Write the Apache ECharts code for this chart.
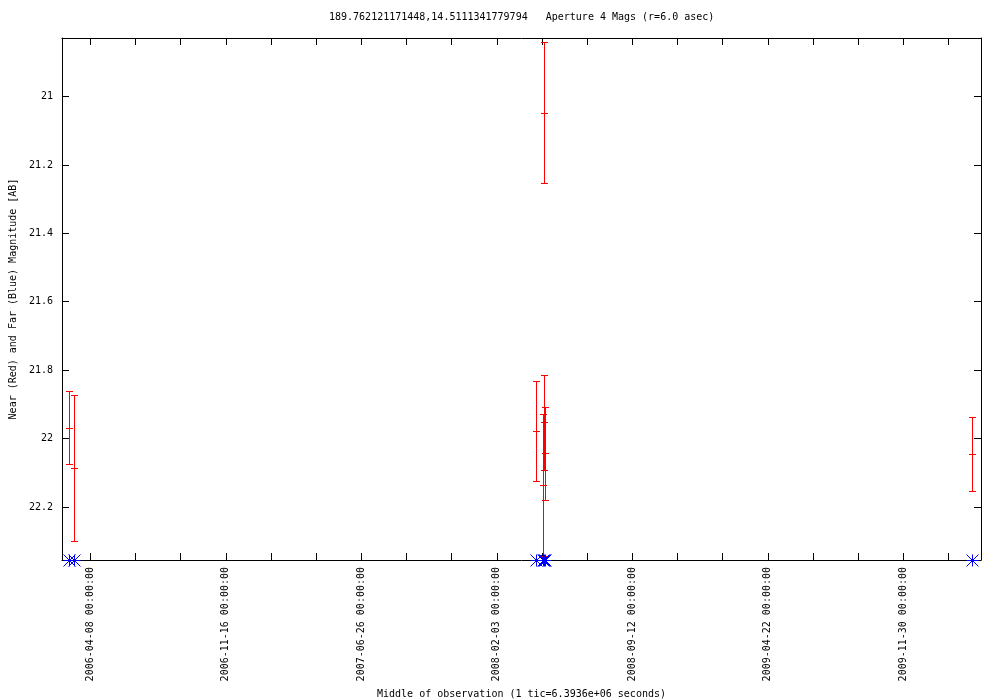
<!DOCTYPE html>
<html><head><meta charset="utf-8">
<script src="https://cdn.jsdelivr.net/npm/echarts@6/dist/echarts.min.js"></script>
<style>html,body{margin:0;padding:0;background:#fff}#c{width:1000px;height:700px}</style>
</head><body><div id="c"></div>
<script>
const titleText = '189.762121171448,14.5111341779794   Aperture 4 Mags (r=6.0 asec)';
const xAxisName = 'Middle of observation (1 tic=6.3936e+06 seconds)';
const yAxisName = 'Near (Red) and Far (Blue) Magnitude [AB]';
const xTickLabels = ['2006-04-08 00:00:00', '2006-11-16 00:00:00', '2007-06-26 00:00:00',
  '2008-02-03 00:00:00', '2008-09-12 00:00:00', '2009-04-22 00:00:00', '2009-11-30 00:00:00'];
const ticDays = 74;            // 1 tic = 6.3936e+06 s
const yTickValues = [21, 21.2, 21.4, 21.6, 21.8, 22, 22.2];

// Near-UV (red) magnitudes with errors
const nearDates = ['2006-03-04', '2006-03-12', '2008-04-07', '2008-04-18', '2008-04-20', '2008-04-22', '2008-04-20', '2010-03-23'];
const nearMag   = [21.968, 22.085, 21.977, 22.135, 21.953, 22.043, 21.047, 22.046];
const nearErr   = [0.107, 0.213, 0.146, 0.208, 0.139, 0.136, 0.206, 0.108];
// Far-UV (blue) points, all at the bottom edge
const farDates  = ['2006-03-04', '2006-03-12', '2008-04-07', '2008-04-18', '2008-04-20', '2008-04-22', '2010-03-23'];
const farMag    = [22.355, 22.355, 22.355, 22.355, 22.355, 22.355, 22.355];

const DAY = 86400000;
const toDay = s => Date.parse(s.length > 10 ? s.replace(' ', 'T') + 'Z' : s + 'T00:00:00Z') / DAY;
const labelDays = xTickLabels.map(toDay);
const d0 = labelDays[0];
const tickDays = [];
for (let k = 0; k <= 19; k++) tickDays.push(d0 + k * ticDays);
const labelMap = {};
labelDays.forEach((d, i) => { labelMap[d] = xTickLabels[i]; });

const xMin = d0 - 46.5, xMax = d0 + 1459.3;
const yMin = 20.829, yMax = 22.355;

const nearData = nearDates.map((d, i) => [toDay(d), nearMag[i], nearErr[i]]);
const farData = farDates.map((d, i) => [toDay(d), farMag[i]]);

const FONT = 'DejaVu Sans Mono';
const FS = 10;
const r = v => Math.round(v) + 0.5;

function renderErr(params, api) {
  const x = api.value(0), m = api.value(1), e = api.value(2);
  const c = api.coord([x, m]), t = api.coord([x, m - e]), b = api.coord([x, m + e]);
  const px = r(c[0]), w = 3.5;
  const st = {stroke: '#ff0000', lineWidth: 1, fill: null};
  const yt = r(t[1]), yb = r(b[1]), yc = r(c[1]);
  return {type: 'group', children: [
    {type: 'line', shape: {x1: px, y1: yt, x2: px, y2: yb}, style: st},
    {type: 'line', shape: {x1: px - w, y1: yt, x2: px + w, y2: yt}, style: st},
    {type: 'line', shape: {x1: px - w, y1: yb, x2: px + w, y2: yb}, style: st},
    {type: 'line', shape: {x1: px - w, y1: yc, x2: px + w, y2: yc}, style: st}
  ]};
}
function renderStar(params, api) {
  const c = api.coord([api.value(0), api.value(1)]);
  const px = r(c[0]), py = r(c[1]), h = 6;
  const st = {stroke: '#0000ff', lineWidth: 1, fill: null};
  return {type: 'group', children: [
    {type: 'line', shape: {x1: px - h, y1: py, x2: px + h, y2: py}, style: st},
    {type: 'line', shape: {x1: px, y1: py - h, x2: px, y2: py + h}, style: st},
    {type: 'line', shape: {x1: px - h, y1: py - h, x2: px + h, y2: py + h}, style: st},
    {type: 'line', shape: {x1: px - h, y1: py + h, x2: px + h, y2: py - h}, style: st}
  ]};
}

const axisLineStyle = {show: true, lineStyle: {color: '#000', width: 1}};
const tickStyle = {show: true, inside: true, length: 7, lineStyle: {color: '#000', width: 1}};

const chart = echarts.init(document.getElementById('c'), null, {renderer: 'canvas'});
chart.setOption({
  animation: false,
  backgroundColor: '#fff',
  textStyle: {fontFamily: FONT},
  title: {
    text: titleText, left: 329, top: 12, padding: 0,
    textStyle: {fontFamily: FONT, fontSize: FS, fontWeight: 'normal', color: '#000'}
  },
  grid: {left: 62, top: 38, width: 919, height: 522, show: false, containLabel: false, outerBoundsMode: 'none'},
  xAxis: [{
    type: 'value', position: 'bottom', min: xMin, max: xMax,
    axisLine: axisLineStyle, splitLine: {show: false},
    axisTick: Object.assign({customValues: tickDays}, tickStyle),
    axisLabel: {
      customValues: labelDays, rotate: 90, margin: 7,
      fontFamily: FONT, fontSize: FS, color: '#000',
      formatter: v => labelMap[v] || ''
    },
    name: xAxisName, nameLocation: 'middle', nameGap: 127,
    nameTextStyle: {fontFamily: FONT, fontSize: FS, color: '#000'}
  }, {
    type: 'value', position: 'top', min: xMin, max: xMax,
    axisLine: axisLineStyle, splitLine: {show: false},
    axisTick: Object.assign({customValues: tickDays}, tickStyle),
    axisLabel: {show: false}
  }],
  yAxis: [{
    type: 'value', position: 'left', inverse: true, min: yMin, max: yMax,
    axisLine: axisLineStyle, splitLine: {show: false},
    axisTick: Object.assign({customValues: yTickValues}, tickStyle),
    axisLabel: {customValues: yTickValues, margin: 9, fontFamily: FONT, fontSize: FS, color: '#000'},
    name: yAxisName, nameLocation: 'middle', nameGap: 43, nameRotate: 90,
    nameTextStyle: {fontFamily: FONT, fontSize: FS, color: '#000'}
  }, {
    type: 'value', position: 'right', inverse: true, min: yMin, max: yMax,
    axisLine: axisLineStyle, splitLine: {show: false},
    axisTick: Object.assign({customValues: yTickValues}, tickStyle),
    axisLabel: {show: false}
  }],
  series: [{
    type: 'custom', name: 'Near', xAxisIndex: 0, yAxisIndex: 0,
    renderItem: renderErr, data: nearData, z: 5, clip: false,
    encode: {x: 0, y: [1, 2]}
  }, {
    type: 'custom', name: 'Far', xAxisIndex: 0, yAxisIndex: 0,
    renderItem: renderStar, data: farData, z: 6, clip: false,
    encode: {x: 0, y: 1}
  }]
});
</script>
</body></html>
